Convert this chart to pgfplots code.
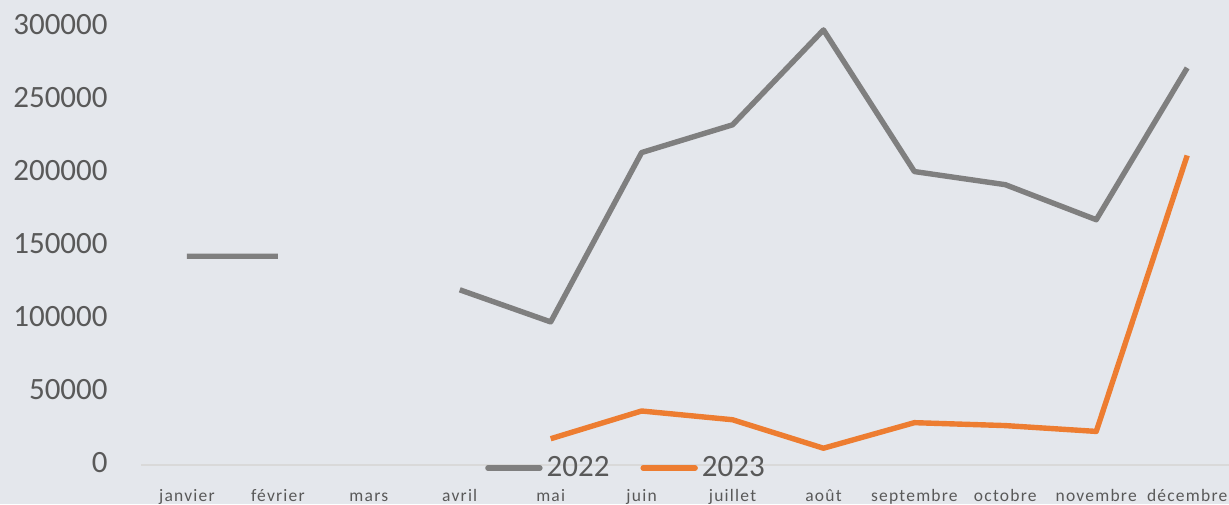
\documentclass[border=0pt]{standalone}
\usepackage{fontspec}
\setmainfont{Carlito}
\usepackage{pgfplots}
\pgfplotsset{compat=1.18}
\definecolor{bgc}{RGB}{228,231,236}
\definecolor{txt}{RGB}{89,89,89}
\definecolor{c22}{RGB}{127,127,127}
\definecolor{c23}{RGB}{237,125,49}
\definecolor{zl}{RGB}{217,217,217}
\newfontfamily\xlab[LetterSpace=7]{Carlito}
\begin{document}
\begin{tikzpicture}
\fill[bgc] (-70.75pt,-19.5pt) rectangle (543.75pt,232.5pt);
\begin{axis}[
  scale only axis,
  width=543.75pt, height=219pt,
  xmin=-0.5, xmax=11.46,
  ymin=0, ymax=300000,
  axis line style={draw=none},
  clip=false,
  unbounded coords=jump,
  scaled y ticks=false,
  xtick={0,...,11},
  xticklabels={janvier,février,mars,avril,mai,juin,juillet,août,septembre,octobre,novembre,décembre},
  ytick={0,50000,100000,150000,200000,250000,300000},
  yticklabels={0,50000,100000,150000,200000,250000,300000},
  major tick length=0pt,
  tick style={draw=none},
  yticklabel style={anchor=east, inner sep=0pt, xshift=-16.75pt, yshift=1.2pt, font=\fontsize{15.5}{16}\selectfont, text=txt},
  xticklabel style={anchor=base, inner sep=0pt, yshift=-18.3pt, font=\xlab\fontsize{8.75}{10}\selectfont, text=txt},
  legend columns=2,
  legend style={at={(0.4464,-0.007)}, anchor=center, draw=none, fill=none, font=\fontsize{15.5}{16}\selectfont, text=txt, inner sep=0pt,
    /tikz/every even column/.append style={column sep=13.5pt}},
  legend image code/.code={\draw[#1, line cap=round] (0pt,0pt) -- (26pt,0pt);},
  /pgf/number format/assume math mode=true,
]
\draw[zl, line width=1pt] (axis cs:-0.5,0) -- (axis cs:11.46,0);
\addplot[c22, line width=2.7pt, line join=round] coordinates {
(0,143000) (1,143000) (2,nan) (3,120000) (4,98000) (5,214000) (6,233000) (7,298000) (8,201000) (9,192000) (10,168000) (11,272000)};
\addlegendentry{2022}
\addplot[c23, line width=2.7pt, line join=round] coordinates {
(4,18000) (5,37000) (6,31000) (7,11500) (8,29000) (9,27000) (10,23000) (11,212000)};
\addlegendentry{2023}
\end{axis}
\pgfresetboundingbox
\path (-70.75pt,-19.5pt) rectangle (543.75pt,232.5pt);
\end{tikzpicture}
\end{document}
